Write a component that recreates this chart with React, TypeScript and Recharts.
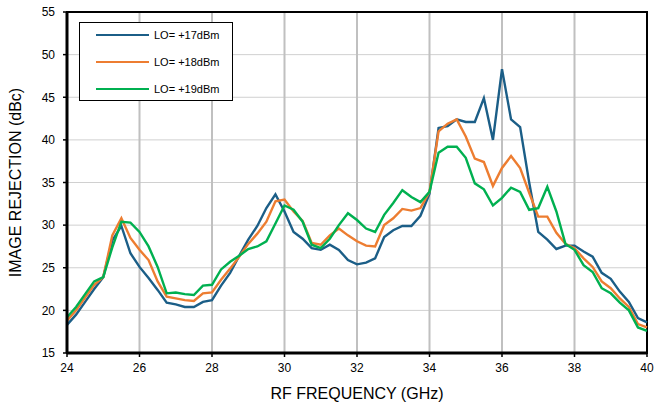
import React from 'react';
import { LineChart, Line, XAxis, YAxis, CartesianGrid, ReferenceArea } from 'recharts';

const FREQ = [
  24, 24.25, 24.5, 24.75, 25, 25.25, 25.5, 25.75, 26, 26.25, 26.5, 26.75, 27, 27.25, 27.5, 27.75,
  28, 28.25, 28.5, 28.75, 29, 29.25, 29.5, 29.75, 30, 30.25, 30.5, 30.75, 31, 31.25, 31.5, 31.75,
  32, 32.25, 32.5, 32.75, 33, 33.25, 33.5, 33.75, 34, 34.25, 34.5, 34.75, 35, 35.25, 35.5, 35.75,
  36, 36.25, 36.5, 36.75, 37, 37.25, 37.5, 37.75, 38, 38.25, 38.5, 38.75, 39, 39.25, 39.5, 39.75, 40,
];

const LO17 = [
  18.3, 19.5, 21.0, 22.5, 23.9, 28.2, 29.9, 26.7, 25.1, 23.8, 22.4, 20.9, 20.7, 20.4, 20.4, 21.0,
  21.2, 22.9, 24.4, 26.4, 28.3, 29.9, 32.0, 33.6, 31.6, 29.2, 28.4, 27.3, 27.1, 27.7, 27.1, 25.9,
  25.4, 25.6, 26.1, 28.6, 29.4, 29.9, 29.9, 31.1, 33.7, 41.4, 41.6, 42.4, 42.1, 42.1, 44.9, 40.0,
  48.3, 42.4, 41.5, 35.0, 29.2, 28.3, 27.2, 27.6, 27.6, 26.9, 26.3, 24.4, 23.7, 22.2, 21.0, 19.1, 18.6,
];

const LO18 = [
  18.8, 20.0, 21.5, 23.0, 23.9, 28.8, 30.8, 28.5, 27.1, 25.9, 23.4, 21.6, 21.4, 21.2, 21.1, 22.0,
  22.1, 23.6, 24.9, 26.3, 27.8, 29.0, 30.4, 32.8, 33.0, 31.6, 30.5, 27.9, 27.7, 28.8, 29.6, 28.8,
  28.1, 27.6, 27.5, 30.0, 30.8, 31.9, 31.7, 32.0, 33.9, 41.0, 41.9, 42.4, 40.4, 37.8, 37.4, 34.6,
  36.7, 38.1, 36.7, 33.8, 31.0, 31.0, 29.1, 27.8, 27.3, 26.1, 25.1, 23.4, 22.6, 21.4, 20.4, 18.4, 18.0,
];

const LO19 = [
  19.2, 20.4, 21.9, 23.4, 23.9, 27.4, 30.4, 30.3, 29.2, 27.5, 25.1, 22.0, 22.1, 21.9, 21.8, 22.9,
  23.0, 24.8, 25.7, 26.4, 27.2, 27.5, 28.1, 30.2, 32.3, 31.8, 30.4, 27.7, 27.3, 28.4, 30.0, 31.4,
  30.6, 29.6, 29.2, 31.2, 32.6, 34.1, 33.3, 32.7, 33.9, 38.5, 39.2, 39.2, 37.9, 34.9, 34.2, 32.3,
  33.2, 34.4, 33.9, 31.8, 32.0, 34.5, 31.6, 27.8, 27.1, 25.3, 24.5, 22.6, 22.0, 20.9, 20.0, 18.0, 17.6,
];

const X_TICKS = [24, 26, 28, 30, 32, 34, 36, 38, 40];
const Y_TICKS = [15, 20, 25, 30, 35, 40, 45, 50, 55];

const SERIES = [
  { key: 'lo17', name: 'LO= +17dBm', color: '#1b5e87' },
  { key: 'lo18', name: 'LO= +18dBm', color: '#ed7d31' },
  { key: 'lo19', name: 'LO= +19dBm', color: '#00b050' },
];

const data = FREQ.map((f, i) => ({ f, lo17: LO17[i], lo18: LO18[i], lo19: LO19[i] }));

const FONT = '"Liberation Sans", Arial, sans-serif';

export default function App() {
  return (
    <div style={{ position: 'absolute', left: 0, top: 0, width: 654, height: 407, background: '#fff', fontFamily: FONT }}>
      <LineChart width={654} height={407} data={data} margin={{ top: 12, right: 7, bottom: 0, left: 0 }}>
        <CartesianGrid vertical={false} stroke="#d0d0d0" strokeWidth={1} />
        <CartesianGrid horizontal={false} stroke="#c0c0c0" strokeWidth={2} />
        <XAxis
          dataKey="f"
          type="number"
          domain={[24, 40]}
          ticks={X_TICKS}
          height={54}
          axisLine={{ stroke: '#000', strokeWidth: 3 }}
          tickLine={{ stroke: '#000', strokeWidth: 1.5 }}
          tickSize={4}
          tickMargin={6}
          tick={{ fill: '#000', fontSize: 12, fontFamily: FONT }}
          label={{ value: 'RF FREQUENCY (GHz)', position: 'insideBottom', offset: 8, fill: '#000', fontSize: 16, fontFamily: FONT }}
        />
        <YAxis
          type="number"
          domain={[15, 55]}
          ticks={Y_TICKS}
          width={67}
          axisLine={{ stroke: '#000', strokeWidth: 3 }}
          tickLine={{ stroke: '#000', strokeWidth: 1.5 }}
          tickSize={4}
          tickMargin={8}
          tick={{ fill: '#000', fontSize: 12, fontFamily: FONT }}
          label={{ value: 'IMAGE REJECTION (dBc)', angle: -90, position: 'insideLeft', offset: 15, fill: '#000', fontSize: 16, fontFamily: FONT, style: { textAnchor: 'middle' } }}
        />
        <ReferenceArea x1={24} x2={40} y1={15} y2={55} fill="none" stroke="#000" strokeWidth={2} />
        {SERIES.map((s) => (
          <Line
            key={s.key}
            type="linear"
            dataKey={s.key}
            name={s.name}
            stroke={s.color}
            strokeWidth={2.4}
            dot={false}
            isAnimationActive={false}
          />
        ))}
      </LineChart>
      <div
        style={{
          position: 'absolute', left: 79, top: 22, width: 152, height: 77,
          border: '1px solid #000', background: '#fff',
        }}
      >
        {SERIES.map((s, i) => (
          <div key={s.key} style={{ position: 'absolute', left: 16, top: 12 + i * 27 - 7, height: 14, display: 'flex', alignItems: 'center' }}>
            <div style={{ width: 53, height: 2, background: s.color }} />
            <span style={{ marginLeft: 5, fontSize: 11, color: '#000', whiteSpace: 'nowrap' }}>{s.name}</span>
          </div>
        ))}
      </div>
    </div>
  );
}
